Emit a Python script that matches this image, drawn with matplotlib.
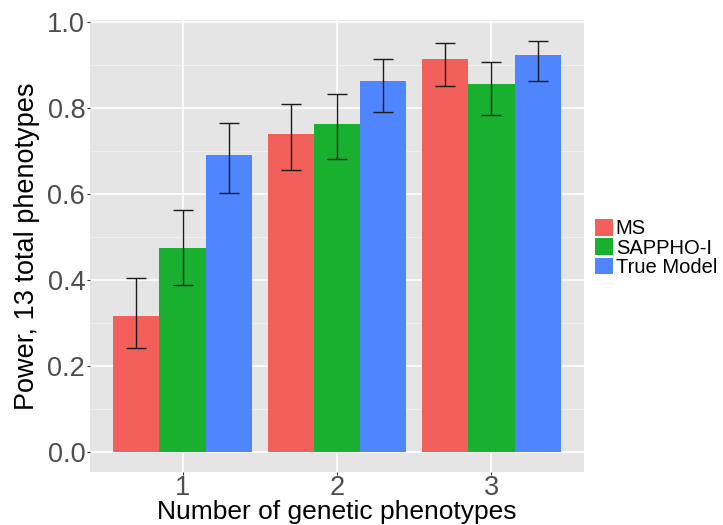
import matplotlib
matplotlib.use("Agg")
import matplotlib.pyplot as plt
import numpy as np
from matplotlib.patches import Patch

plt.rcParams['font.family'] = ['Liberation Sans', 'DejaVu Sans']

categories = ["1", "2", "3"]
methods = ["MS", "SAPPHO-I", "True Model"]
colors = ["#F3605B", "#19B030", "#4F86FF"]

power = {
    "MS":         [0.316, 0.740, 0.914],
    "SAPPHO-I":   [0.474, 0.764, 0.856],
    "True Model": [0.690, 0.864, 0.923],
}
lower = {
    "MS":         [0.241, 0.655, 0.851],
    "SAPPHO-I":   [0.388, 0.682, 0.783],
    "True Model": [0.603, 0.792, 0.862],
}
upper = {
    "MS":         [0.404, 0.810, 0.952],
    "SAPPHO-I":   [0.563, 0.832, 0.908],
    "True Model": [0.766, 0.914, 0.957],
}

W, H = 723, 525
fig = plt.figure(figsize=(W / 100, H / 100), dpi=100)
ax = fig.add_axes([90 / W, 1 - 472 / H, (584 - 90) / W, (472 - 20) / H])
ax.set_facecolor("#E5E5E5")

x = np.arange(1, len(categories) + 1)
bw = 0.3
for i, m in enumerate(methods):
    pos = x + (i - 1) * bw
    vals = np.array(power[m])
    ax.bar(pos, vals, width=bw, color=colors[i], zorder=3, linewidth=0)
    err = [vals - np.array(lower[m]), np.array(upper[m]) - vals]
    ax.errorbar(pos, vals, yerr=err, fmt="none", ecolor="#1a1a1a",
                elinewidth=1.0, capsize=7.5, capthick=1.0, zorder=4)

ax.set_xlim(0.4, 3.6)
ax.set_ylim(-0.047, 1.005)
ax.set_xticks(x)
ax.set_xticklabels(categories)
ax.set_yticks(np.arange(0, 1.01, 0.2))
ax.set_yticklabels([f"{v:.1f}" for v in np.arange(0, 1.01, 0.2)])
ax.set_yticks(np.arange(0.1, 1.0, 0.2), minor=True)

ax.grid(which="major", color="white", linewidth=1.2, zorder=0)
ax.grid(which="minor", axis="y", color="#F2F2F2", linewidth=0.6, zorder=0)
ax.set_axisbelow(True)
for s in ax.spines.values():
    s.set_visible(False)

ax.tick_params(axis="both", which="major", length=2.5, width=0.8, color="#333333",
               labelsize=19.5, labelcolor="#4D4D4D")
ax.tick_params(axis="x", which="major", pad=0)
ax.tick_params(axis="y", which="major", pad=1)
ax.tick_params(axis="both", which="minor", length=0)

ax.set_xlabel("Number of genetic phenotypes", fontsize=19, color="black", labelpad=-1)
ax.set_ylabel("Power, 13 total phenotypes", fontsize=19.5, color="black", labelpad=5)

handles = [Patch(facecolor=c, edgecolor="none") for c in colors]
fig.legend(handles, methods, loc="upper left", bbox_to_anchor=(595 / W, 1 - 219 / H),
           frameon=False, fontsize=14.5, handlelength=0.88, handleheight=0.9,
           labelspacing=0.0, handletextpad=0.15, borderpad=0, borderaxespad=0)

fig.savefig("out.png", dpi=100, facecolor="white")
